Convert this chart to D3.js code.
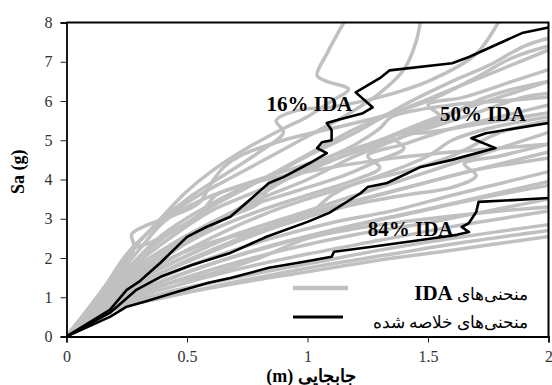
<!DOCTYPE html>
<html>
<head>
<meta charset="utf-8">
<script src="https://cdn.jsdelivr.net/npm/d3@7"></script>
<style>
  body { margin: 0; background: #fff; }
  svg { display: block; }
</style>
</head>
<body>
<svg id="chart" width="552" height="385"></svg>
<script>
// displacement (m) / Sa (g) pairs
const xTicks = [0, 0.5, 1, 1.5, 2];
const yTicks = [0, 1, 2, 3, 4, 5, 6, 7, 8];

const idaCurves = [
  [[0,0],[0.15,1.2],[0.25,2.1],[0.33,2.6],[0.42,3.2],[0.5,3.7],[0.6,4.2],[0.75,4.8],[0.9,5.3],[1.0,5.6],[1.1,6.0],[1.17,6.3],[1.08,6.5],[1.04,6.65],[1.08,7.2],[1.16,8.1]],
  [[0,0],[0.15,1.15],[0.22,1.8],[0.28,2.3],[0.35,2.7],[0.45,3.2],[0.55,3.6],[0.7,4.1],[0.85,4.6],[1.0,5.1],[1.15,5.6],[1.3,6.2],[1.4,6.8],[1.45,7.5],[1.47,8.1]],
  [[0,0],[0.14,1.0],[0.2,1.5],[0.3,2.4],[0.38,2.9],[0.5,3.5],[0.65,4.1],[0.8,4.7],[0.9,5.2],[0.87,5.5],[0.95,5.75],[1.1,5.85],[1.3,6.1],[1.5,6.5],[1.7,7.2],[1.8,8.1]],
  [[0,0],[0.15,1.0],[0.25,1.7],[0.27,2.2],[0.35,2.4],[0.5,2.9],[0.6,3.3],[0.75,3.8],[0.9,4.3],[1.05,4.8],[1.2,5.3],[1.4,5.8],[1.6,6.3],[1.8,6.8],[2.0,7.3]],
  [[0,0],[0.16,1.1],[0.28,1.9],[0.4,2.6],[0.55,3.2],[0.7,3.7],[0.85,4.1],[1.0,4.6],[1.2,5.2],[1.4,5.9],[1.6,6.5],[1.75,6.9],[1.9,7.4],[2.0,7.6]],
  [[0,0],[0.15,1.0],[0.3,1.9],[0.45,2.6],[0.6,3.2],[0.75,3.6],[0.95,4.1],[1.15,4.6],[1.35,5.1],[1.55,5.6],[1.5,5.9],[1.65,6.1],[1.85,6.5],[2.0,6.8]],
  [[0,0],[0.16,1.0],[0.3,1.8],[0.45,2.4],[0.6,2.9],[0.8,3.5],[1.0,4.0],[1.2,4.6],[1.4,5.1],[1.55,5.5],[1.7,6.0],[1.85,6.3],[2.0,6.5]],
  [[0,0],[0.15,0.95],[0.3,1.7],[0.5,2.5],[0.65,3.0],[0.8,3.4],[0.85,3.9],[0.95,4.2],[1.1,4.5],[1.3,4.9],[1.5,5.3],[1.7,5.7],[1.9,6.1],[2.0,6.2]],
  [[0,0],[0.15,0.9],[0.3,1.6],[0.45,2.2],[0.6,2.7],[0.8,3.2],[1.0,3.6],[1.2,4.0],[1.3,4.3],[1.25,4.6],[1.4,4.9],[1.6,5.3],[1.8,5.6],[2.0,5.9]],
  [[0,0],[0.14,0.85],[0.3,1.5],[0.5,2.2],[0.7,2.8],[0.9,3.3],[1.1,3.7],[1.3,4.1],[1.5,4.6],[1.6,5.0],[1.75,5.3],[2.0,5.6]],
  [[0,0],[0.15,0.85],[0.35,1.6],[0.55,2.2],[0.75,2.7],[1.0,3.2],[1.25,3.7],[1.45,4.1],[1.65,4.5],[1.85,4.9],[2.0,5.2]],
  [[0,0],[0.15,0.8],[0.35,1.5],[0.6,2.2],[0.85,2.8],[1.1,3.3],[1.35,3.7],[1.6,4.1],[1.8,4.4],[2.0,4.7]],
  [[0,0],[0.14,0.8],[0.3,1.35],[0.5,1.9],[0.7,2.4],[0.9,2.85],[1.15,3.3],[1.4,3.6],[1.6,3.8],[1.7,4.1],[1.65,4.4],[1.8,4.6],[2.0,4.9]],
  [[0,0],[0.15,0.8],[0.35,1.4],[0.6,2.0],[0.85,2.5],[1.1,2.9],[1.35,3.2],[1.6,3.6],[1.8,3.9],[2.0,4.2]],
  [[0,0],[0.15,0.75],[0.35,1.3],[0.6,1.85],[0.85,2.3],[1.1,2.7],[1.4,3.1],[1.7,3.5],[2.0,3.85]],
  [[0,0],[0.14,0.7],[0.35,1.2],[0.6,1.7],[0.9,2.2],[1.2,2.6],[1.5,2.9],[1.75,3.2],[2.0,3.5]],
  [[0,0],[0.15,0.7],[0.4,1.2],[0.7,1.7],[1.0,2.1],[1.3,2.45],[1.6,2.8],[1.8,3.0],[2.0,3.2]],
  [[0,0],[0.15,0.65],[0.4,1.1],[0.7,1.5],[1.0,1.85],[1.3,2.2],[1.6,2.5],[2.0,2.85]],
  [[0,0],[0.15,0.6],[0.4,1.0],[0.7,1.35],[1.0,1.65],[1.3,1.95],[1.6,2.2],[2.0,2.55]],
  [[0,0],[0.18,0.65],[0.45,1.05],[0.75,1.45],[1.05,1.8],[1.35,2.1],[1.65,2.4],[2.0,2.7]],
  [[0,0],[0.12,0.9],[0.2,1.4],[0.25,1.8],[0.28,2.3],[0.27,2.6],[0.32,2.8],[0.45,3.1],[0.55,3.4],[0.6,3.9],[0.65,4.3],[0.72,4.6],[0.9,5.0],[1.1,5.3],[1.3,5.6],[1.5,6.0],[1.7,6.6],[1.85,7.1],[2.0,7.4]],
  [[0,0],[0.15,1.05],[0.25,1.7],[0.4,2.5],[0.55,3.1],[0.62,3.6],[0.7,3.8],[0.9,4.2],[1.1,4.6],[1.3,5.0],[1.5,5.5],[1.7,5.9],[1.9,6.3],[2.0,6.5]],
  [[0,0],[0.15,0.9],[0.35,1.8],[0.5,2.4],[0.62,2.9],[0.75,3.3],[0.95,3.7],[1.15,4.1],[1.3,4.5],[1.4,4.8],[1.35,5.1],[1.5,5.2],[1.7,5.4],[2.0,5.7]],
  [[0,0],[0.15,0.8],[0.3,1.45],[0.5,2.05],[0.7,2.6],[0.95,3.05],[1.2,3.45],[1.45,3.85],[1.7,4.25],[1.9,4.45],[2.0,4.55]],
  [[0,0],[0.16,0.75],[0.4,1.4],[0.65,1.95],[0.9,2.4],[1.2,2.85],[1.5,3.25],[1.75,3.6],[2.0,3.95]],
  [[0,0],[0.2,1.1],[0.4,1.9],[0.6,2.4],[0.8,2.7],[1.0,3.1],[1.1,3.6],[1.2,3.9],[1.4,4.2],[1.6,4.6],[1.8,5.2],[2.0,5.5]],
  [[0,0],[0.15,0.9],[0.4,2.0],[0.6,2.8],[0.8,3.6],[1.0,4.3],[1.2,4.9],[1.3,5.3],[1.35,5.6],[1.6,5.9],[1.8,6.0],[2.0,6.1]],
  [[0,0],[0.15,1.1],[0.3,2.2],[0.4,2.9],[0.5,3.3],[0.7,3.8],[1.0,4.2],[1.3,4.5],[1.6,4.7],[2.0,4.9]],
  [[0,0],[0.17,0.7],[0.4,1.3],[0.6,1.6],[0.8,2.0],[1.0,2.5],[1.2,2.75],[1.5,3.0],[1.8,3.2],[2.0,3.3]]
];

const ida16 = [[0,0],[0.18,0.68],[0.25,1.19],[0.30,1.39],[0.39,1.88],[0.50,2.54],[0.58,2.79],[0.68,3.05],[0.76,3.48],[0.84,3.91],[0.90,4.06],[1.01,4.42],[1.08,4.67],[1.04,4.80],[1.06,4.95],[1.10,5.0],[1.10,5.26],[1.08,5.44],[1.12,5.51],[1.23,5.69],[1.27,5.84],[1.20,6.22],[1.30,6.58],[1.34,6.78],[1.60,6.96],[1.67,7.12],[1.89,7.73],[2.0,7.87]];
const ida50 = [[0,0],[0.18,0.60],[0.29,1.19],[0.39,1.52],[0.52,1.82],[0.68,2.13],[0.83,2.54],[1.0,2.92],[1.09,3.15],[1.22,3.65],[1.25,3.81],[1.33,3.91],[1.47,4.32],[1.60,4.50],[1.78,4.80],[1.68,5.05],[1.74,5.18],[2.0,5.44]];
const ida84 = [[0,0],[0.18,0.50],[0.25,0.76],[0.32,0.88],[0.46,1.14],[0.59,1.37],[0.68,1.49],[0.84,1.75],[0.98,1.90],[1.10,2.03],[1.11,2.16],[1.26,2.28],[1.47,2.46],[1.62,2.59],[1.67,2.66],[1.64,2.79],[1.67,2.89],[1.70,3.17],[1.71,3.43],[1.87,3.48],[2.0,3.53]];

const summaryLabels = [
  {text: '16% IDA', at: [0.83, 5.75]},
  {text: '50% IDA', at: [1.55, 5.5]},
  {text: '84% IDA', at: [1.25, 2.55]}
];

const svg = d3.select('#chart');
const serif = '"Liberation Serif", "Times New Roman", serif';

const x = d3.scaleLinear().domain([0, 2]).range([66.5, 548.5]);
const y = d3.scaleLinear().domain([0, 8]).range([336.5, 22.5]);

svg.append('defs').append('clipPath').attr('id', 'plot')
  .append('rect')
    .attr('x', x(0)).attr('y', y(8))
    .attr('width', x(2) - x(0)).attr('height', y(0) - y(8));

const line = d3.line().x(d => x(d[0])).y(d => y(d[1]));
const smooth = d3.line().x(d => x(d[0])).y(d => y(d[1])).curve(d3.curveCatmullRom.alpha(0.5));

svg.append('g')
    .attr('clip-path', 'url(#plot)')
    .attr('fill', 'none')
    .attr('stroke', '#c0c0c0')
    .attr('stroke-width', 3.5)
    .attr('stroke-linejoin', 'round')
    .attr('stroke-linecap', 'round')
  .selectAll('path')
  .data(idaCurves)
  .join('path')
    .attr('d', smooth);

svg.append('g')
    .attr('clip-path', 'url(#plot)')
    .attr('fill', 'none')
    .attr('stroke', '#000')
    .attr('stroke-width', 2.6)
    .attr('stroke-linejoin', 'round')
  .selectAll('path')
  .data([ida16, ida50, ida84])
  .join('path')
    .attr('d', line);

// frame: top and right edges
svg.append('path')
  .attr('fill', 'none')
  .attr('stroke', '#000')
  .attr('stroke-width', 2)
  .attr('d', `M${x(0)},${y(8)}H${x(2)}V${y(0)}`);

const xAxis = svg.append('g')
  .attr('transform', `translate(0,${y(0)})`)
  .call(d3.axisBottom(x).tickValues(xTicks).tickSize(6).tickPadding(8).tickFormat(d => String(d)));

const yAxis = svg.append('g')
  .attr('transform', `translate(${x(0)},0)`)
  .call(d3.axisLeft(y).tickValues(yTicks).tickSize(6).tickPadding(8));

[xAxis, yAxis].forEach(g => {
  g.select('.domain').attr('stroke', '#000').attr('stroke-width', 1.8);
  g.selectAll('.tick line').attr('stroke', '#222');
  g.selectAll('.tick text')
    .attr('font-family', serif)
    .attr('font-size', 16)
    .attr('fill', '#333');
});

svg.append('g')
    .attr('font-family', serif)
    .attr('font-weight', 'bold')
    .attr('font-size', 21)
  .selectAll('text')
  .data(summaryLabels)
  .join('text')
    .attr('x', d => x(d.at[0]))
    .attr('y', d => y(d.at[1]))
    .text(d => d.text);

svg.append('text')
  .attr('transform', `translate(24,${y(4.2)}) rotate(-90)`)
  .attr('text-anchor', 'middle')
  .attr('font-family', serif)
  .attr('font-weight', 'bold')
  .attr('font-size', 18)
  .text('Sa (g)');

svg.append('text')
  .attr('x', 311)
  .attr('y', 382)
  .attr('text-anchor', 'middle')
  .attr('direction', 'rtl')
  .attr('font-family', serif)
  .attr('font-weight', 'bold')
  .attr('font-size', 18)
  .text('جابجایی (m)');

// legend
const legend = svg.append('g');
const legendItems = [
  {color: '#c0c0c0', y: 288, x2: 348},
  {color: '#000', y: 317, x2: 343}
];
legend.selectAll('line')
  .data(legendItems)
  .join('line')
    .attr('x1', 293).attr('x2', d => d.x2)
    .attr('y1', d => d.y).attr('y2', d => d.y)
    .attr('stroke', d => d.color)
    .attr('stroke-width', d => d.color === '#000' ? 3 : 4.5);

const t1 = legend.append('text')
  .attr('x', 528).attr('y', 300)
  .attr('direction', 'rtl')
  .attr('text-anchor', 'start')
  .attr('font-family', serif)
  .attr('font-size', 17);
t1.append('tspan').text('منحنی‌های ');
t1.append('tspan').attr('font-weight', 'bold').attr('font-size', 21).text('IDA');

legend.append('text')
  .attr('x', 528).attr('y', 328)
  .attr('direction', 'rtl')
  .attr('text-anchor', 'start')
  .attr('font-family', serif)
  .attr('font-size', 17)
  .text('منحنی‌های خلاصه شده');
</script>
</body>
</html>
